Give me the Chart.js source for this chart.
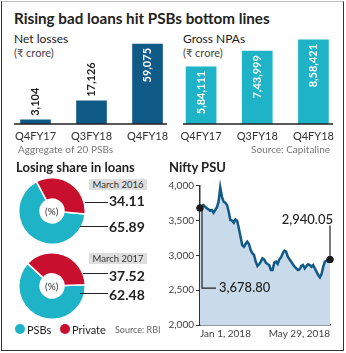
<!DOCTYPE html>
<html><head><meta charset="utf-8">
<script src="https://cdn.jsdelivr.net/npm/chart.js@4"></script>
<style>
html,body{margin:0;padding:0;background:#fff;}
#wrap{position:relative;width:346px;height:353px;overflow:hidden;font-family:Lato,'Open Sans',sans-serif;color:#222;}
.abs{position:absolute;white-space:nowrap;line-height:1;}
canvas{position:absolute;}
.ln{position:absolute;height:1px;background:#222;}
</style></head><body>
<div id="wrap">
<div class="abs" style="left:1px;top:1px;width:341px;height:348px;border:1px solid #333;border-top-color:#bbb;"></div>
<div class="abs" style="left:14px;top:11px;font-size:15.2px;font-weight:700;">Rising bad loans hit PSBs bottom lines</div>
<div class="abs" style="left:14px;top:33px;font-size:12px;">Net losses</div>
<div class="abs" style="left:14px;top:47px;font-size:11px;color:#444">(₹ crore)</div>
<div class="abs" style="left:183px;top:33px;font-size:12px;">Gross NPAs</div>
<div class="abs" style="left:183px;top:47px;font-size:11px;color:#444">(₹ crore)</div>
<canvas id="cNet" width="180" height="120" style="left:0;top:30px"></canvas>
<canvas id="cNpa" width="176" height="120" style="left:170px;top:30px"></canvas>
<div class="abs" style="left:18px;top:144px;font-size:10px;color:#777">Aggregate of 20 PSBs</div>
<div class="abs" style="right:16px;top:144px;font-size:10px;color:#777">Source: Capitaline</div>

<div class="abs" style="left:16px;top:161px;font-size:13px;font-weight:700;">Losing share in loans</div>
<div class="abs" style="left:169px;top:161px;font-size:13px;font-weight:700;">Nifty PSU</div>

<canvas id="cD16" width="68" height="68" style="left:18px;top:177px"></canvas>
<canvas id="cD17" width="68" height="68" style="left:18px;top:252px"></canvas>
<div class="abs" style="left:45px;top:206px;font-size:10px;color:#333">(%)</div>
<div class="abs" style="left:45px;top:281px;font-size:10px;color:#333">(%)</div>

<div class="abs" style="left:89px;top:179px;width:58px;height:11px;background:#dedede;font-size:9.5px;color:#333;text-align:center;line-height:11px">March 2016</div>
<div class="abs" style="left:89px;top:253px;width:58px;height:11px;background:#dedede;font-size:9.5px;color:#333;text-align:center;line-height:11px">March 2017</div>
<div class="ln" style="left:85px;top:202px;width:23px"></div>
<div class="ln" style="left:80px;top:226px;width:28px"></div>
<div class="ln" style="left:83px;top:273px;width:25px"></div>
<div class="ln" style="left:80px;top:293px;width:28px"></div>
<div class="abs" id="t1" style="left:109px;top:194px;font-size:14px;font-weight:700;"></div>
<div class="abs" id="t2" style="left:109px;top:220px;font-size:14px;font-weight:700;"></div>
<div class="abs" id="t3" style="left:109px;top:269px;font-size:14px;font-weight:700;"></div>
<div class="abs" id="t4" style="left:109px;top:288px;font-size:14px;font-weight:700;"></div>

<div class="abs" style="left:15px;top:324px;width:10px;height:10px;border-radius:50%;background:#1fb3c8"></div>
<div class="abs" style="left:27px;top:324px;font-size:11px;" id="lg1"></div>
<div class="abs" style="left:60px;top:324px;width:10px;height:10px;border-radius:50%;background:#c8102e"></div>
<div class="abs" style="left:72px;top:324px;font-size:11px;" id="lg2"></div>
<div class="abs" style="left:115px;top:325px;font-size:9px;color:#666">Source: RBI</div>

<canvas id="cNifty" width="181" height="170" style="left:165px;top:175px"></canvas>
</div>
<script>
const netCats = ['Q4FY17', 'Q3FY18', 'Q4FY18'];
const netLosses = [3104, 17126, 59075];
const netLabels = ['3,104', '17,126', '59,075'];
const npaCats = ['Q4FY17', 'Q3FY18', 'Q4FY18'];
const grossNPAs = [584111, 743999, 858421];
const npaLabels = ['5,84,111', '7,43,999', '8,58,421'];
const shareSeries = ['PSBs', 'Private'];
const share2016 = [65.89, 34.11];
const share2017 = [62.48, 37.52];
const niftyEnds = ['Jan 1, 2018', 'May 29, 2018'];
const niftyPSU = [3678.8, 3708, 3723, 3699, 3675, 3660, 3641, 3651, 3613, 3651, 3689, 3770, 3975, 3840, 3770, 3756, 3723, 3627, 3507, 3498, 3469, 3517, 3498, 3388, 3268, 3148, 3124, 3163, 3196, 3163, 3077, 3029, 3005, 2909, 2847, 2871, 2909, 2957, 2943, 2895, 2876, 2861, 2790, 2790, 2895, 2909, 2876, 2943, 2971, 3029, 3067, 3053, 2981, 2943, 2909, 2871, 2837, 2813, 2790, 2799, 2847, 2861, 2813, 2847, 2871, 2861, 2837, 2861, 2813, 2766, 2718, 2684, 2732, 2837, 2909, 2923, 2909, 2940.05];

const TEAL = '#1fb3c8', RED = '#c8102e', NAVY = '#0f5a87';
const FONT = 'Lato';

document.getElementById('t1').textContent = share2016[1].toFixed(2);
document.getElementById('t2').textContent = share2016[0].toFixed(2);
document.getElementById('t3').textContent = share2017[1].toFixed(2);
document.getElementById('t4').textContent = share2017[0].toFixed(2);
document.getElementById('lg1').textContent = shareSeries[0];
document.getElementById('lg2').textContent = shareSeries[1];

function barChart(id, cats, vals, labels, color, yMax, padL, padR, lineX0, lineX1, insideAll) {
  return new Chart(document.getElementById(id), {
    type: 'bar',
    data: {labels: cats, datasets: [{data: vals, backgroundColor: color, barThickness: 30}]},
    options: {
      responsive: false, animation: false, events: [],
      layout: {padding: {left: padL, right: padR, top: 0, bottom: 0}},
      plugins: {legend: {display: false}, tooltip: {enabled: false}},
      scales: {
        x: {grid: {display: false, drawTicks: false}, border: {display: false},
            ticks: {color: '#333', font: {family: FONT, size: 11}, padding: 6},
            afterFit: s => { s.height = 26; }},
        y: {display: false, min: 0, max: yMax}
      }
    },
    plugins: [{
      id: 'lbl',
      afterDatasetsDraw(chart) {
        const ctx = chart.ctx, meta = chart.getDatasetMeta(0);
        const by = chart.scales.y.getPixelForValue(0);
        ctx.save();
        ctx.strokeStyle = '#222'; ctx.lineWidth = 1.5;
        ctx.beginPath(); ctx.moveTo(lineX0, by); ctx.lineTo(lineX1, by); ctx.stroke();
        meta.data.forEach((bar, i) => {
          ctx.save();
          ctx.translate(bar.x, bar.y);
          ctx.rotate(-Math.PI / 2);
          ctx.font = '700 11px ' + FONT;
          ctx.textBaseline = 'middle';
          const h = bar.base - bar.y;
          if (insideAll || h > 50) { ctx.fillStyle = '#fff'; ctx.textAlign = 'right'; ctx.fillText(labels[i], -4, 0); }
          else { ctx.fillStyle = '#222'; ctx.textAlign = 'left'; ctx.fillText(labels[i], 4, 0); }
          ctx.restore();
        });
        ctx.restore();
      }
    }]
  });
}
barChart('cNet', netCats, netLosses, netLabels, NAVY, 69400, 7.5, 4.5, 14, 167, false);
barChart('cNpa', npaCats, grossNPAs, npaLabels, TEAL, 960000, 3, 4.5, 13, 163, true);

function donut(id, vals, rot) {
  return new Chart(document.getElementById(id), {
    type: 'doughnut',
    data: {labels: shareSeries, datasets: [{data: vals, backgroundColor: [TEAL, RED], borderColor: '#fff', borderWidth: 1.5, hoverOffset: 0, offset: 0}]},
    options: {responsive: false, animation: false, events: [], rotation: rot, cutout: '36%',
      plugins: {legend: {display: false}, tooltip: {enabled: false}}}
  });
}
donut('cD16', share2016, 95);
donut('cD17', share2017, 88);

const nLast = niftyPSU.length - 1;
new Chart(document.getElementById('cNifty'), {
  type: 'line',
  data: {
    labels: niftyPSU.map((v, i) => i === 0 ? niftyEnds[0] : (i === nLast ? niftyEnds[1] : '')),
    datasets: [{data: niftyPSU, borderColor: NAVY, borderWidth: 2.5, backgroundColor: '#c9dbea',
      fill: 'start', tension: 0, clip: false,
      pointRadius: c => (c.dataIndex === 0 || c.dataIndex === nLast) ? 3.5 : 0,
      pointBackgroundColor: '#1a1a1a', pointBorderWidth: 0}]
  },
  options: {
    responsive: false, animation: false, events: [],
    layout: {padding: {left: 0, right: 16, top: 10.7, bottom: 0}},
    plugins: {legend: {display: false}, tooltip: {enabled: false}},
    scales: {
      x: {grid: {display: false, drawTicks: false}, border: {display: true, color: '#333', width: 1.5},
          ticks: {autoSkip: false, maxRotation: 0, align: 'inner', color: '#444', font: {family: FONT, size: 10}, padding: 3},
          afterFit: s => { s.height = 20; }},
      y: {min: 2000, max: 4000,
          ticks: {stepSize: 500, color: '#444', font: {family: FONT, size: 10}, padding: 2,
                  callback: v => v.toLocaleString('en-US')},
          grid: {drawOnChartArea: false, tickLength: 4, color: '#333'},
          border: {color: '#333', width: 1.5},
          afterFit: s => { s.width = 35; }}
    }
  },
  plugins: [{
    id: 'ann',
    afterDatasetsDraw(chart) {
      const ctx = chart.ctx, pts = chart.getDatasetMeta(0).data;
      const p0 = pts[0], p1 = pts[nLast];
      const fmt = v => v.toLocaleString('en-US', {minimumFractionDigits: 2, maximumFractionDigits: 2});
      ctx.save();
      ctx.strokeStyle = '#222'; ctx.lineWidth = 1.2;
      ctx.beginPath(); ctx.moveTo(p0.x + 2, p0.y); ctx.lineTo(p0.x + 2, p0.y + 80); ctx.lineTo(p0.x + 16, p0.y + 80); ctx.stroke();
      ctx.beginPath(); ctx.moveTo(p1.x, p1.y); ctx.lineTo(p1.x, p1.y - 34); ctx.stroke();
      ctx.fillStyle = '#222'; ctx.font = '500 13px ' + FONT; ctx.textBaseline = 'middle';
      ctx.textAlign = 'left'; ctx.fillText(fmt(niftyPSU[0]), p0.x + 19, p0.y + 80);
      ctx.textAlign = 'right'; ctx.fillText(fmt(niftyPSU[nLast]), p1.x + 3, p1.y - 40);
      ctx.fillStyle = '#1a1a1a';
      [p0, p1].forEach(p => { ctx.beginPath(); ctx.arc(p.x, p.y, 3.5, 0, Math.PI * 2); ctx.fill(); });
      ctx.restore();
    }
  }]
});
</script>
</body></html>
